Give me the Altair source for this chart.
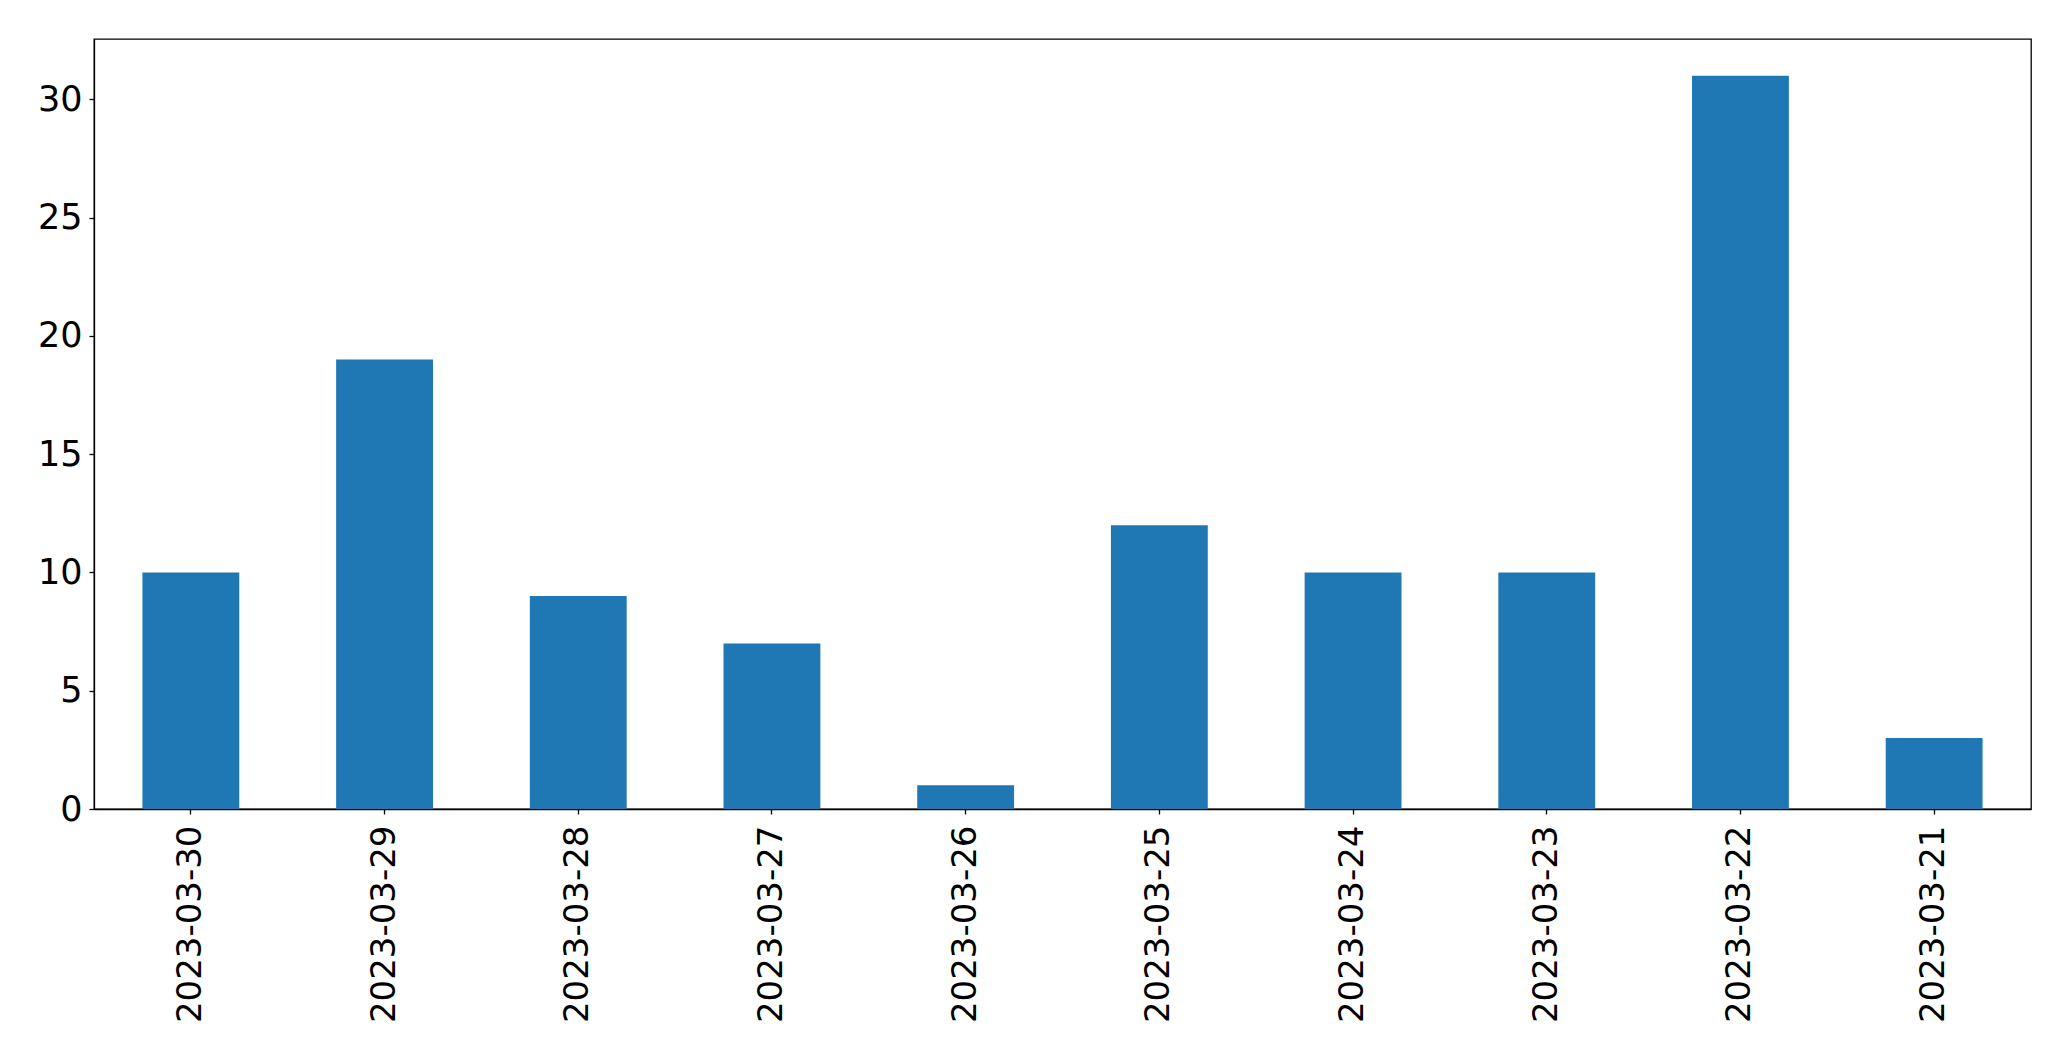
import altair as alt
import pandas as pd

dates = ["2023-03-30", "2023-03-29", "2023-03-28", "2023-03-27", "2023-03-26",
         "2023-03-25", "2023-03-24", "2023-03-23", "2023-03-22", "2023-03-21"]
counts = [10, 19, 9, 7, 1, 12, 10, 10, 31, 3]

df = pd.DataFrame({"date": dates, "count": counts})

chart = alt.Chart(df).mark_bar(color="#1f77b4").encode(
    x=alt.X("date:N", sort=dates, title=None,
            scale=alt.Scale(paddingInner=0.5, paddingOuter=0.25),
            axis=alt.Axis(labelAngle=-90, labelFontSize=34, labelFont="DejaVu Sans",
                          labelLimit=0,
                          labelColor="black", tickColor="black", domainColor="black",
                          tickSize=5, labelPadding=11, domainWidth=1.3, tickWidth=1.3)),
    y=alt.Y("count:Q", title=None,
            scale=alt.Scale(domain=[0, 32.55], nice=False, zero=True),
            axis=alt.Axis(values=[0, 5, 10, 15, 20, 25, 30], grid=False,
                          labelFontSize=35, labelFont="DejaVu Sans", labelColor="black",
                          tickColor="black", domainColor="black", tickSize=5,
                          labelPadding=7, domainWidth=1.3, tickWidth=1.3)),
).properties(
    width=1937, height=770,
    autosize=alt.AutoSizeParams(type="none"),
    padding={"left": 86, "top": 31, "right": 30, "bottom": 240},
).configure_view(stroke="black", strokeWidth=1.3)

chart.save("out.html", embed_options={"renderer": "svg", "actions": False})
